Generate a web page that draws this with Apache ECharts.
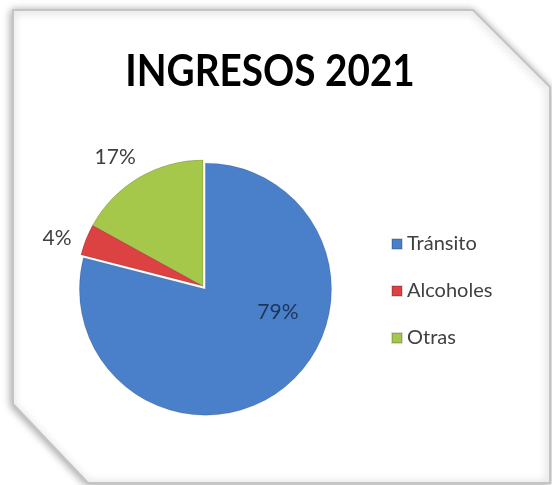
<!DOCTYPE html>
<html><head><meta charset="utf-8">
<script src="https://cdn.jsdelivr.net/npm/echarts@6/dist/echarts.min.js"></script>
<style>html,body{margin:0;padding:0;background:#fff}#c{width:552px;height:485px}</style>
</head><body><div id="c"></div>
<script>
const categories = ['Tránsito', 'Alcoholes', 'Otras'];
const values = [79, 4, 17];
const colors = ['#4a7fca', '#dc4242', '#a6c84a'];
const titleText = 'INGRESOS 2021';

const chart = echarts.init(document.getElementById('c'), null, {renderer: 'canvas'});
const labelCfg = [
  {position: 'inside', color: '#1d3557'},
  {position: 'outside', color: '#404040'},
  {position: 'outside', color: '#404040'}
];
const labelShift = [[32, -29], [0, 2], [7, -12]];
const data = categories.map((c, i) => ({
  name: c, value: values[i],
  selected: i === 0,
  itemStyle: {color: colors[i]},
  label: labelCfg[i]
}));
chart.setOption({
  animation: false,
  graphic: [{
    type: 'polygon', z: -10,
    shape: {points: [[13,10],[473,10],[550,87],[550,483],[88,483],[13,404]]},
    style: {fill: '#fff', stroke: '#c4c4c4', lineWidth: 2,
      shadowBlur: 8, shadowColor: 'rgba(0,0,0,0.35)', shadowOffsetX: -1, shadowOffsetY: 1}
  }, {
    type: 'text', x: 270, y: 72, scaleX: 0.88,
    style: {text: titleText, fontFamily: 'Lato', fontWeight: 'bold', fontSize: 44,
      fill: '#000', textAlign: 'center', textVerticalAlign: 'middle'}
  }],
  legend: {
    orient: 'vertical', left: 386, top: 229,
    itemWidth: 10, itemHeight: 10, itemGap: 27, icon: 'rect',
    textStyle: {fontFamily: 'Lato', fontSize: 20, color: '#404040'},
    data: categories
  },
  series: [{
    type: 'pie', center: [203, 286], radius: 126,
    startAngle: 90, clockwise: true,
    selectedMode: 'multiple', selectedOffset: 4,
    label: {formatter: '{d}%', fontFamily: 'Lato', fontSize: 21, color: '#404040'},
    labelLine: {show: false, length: 10, length2: 0},
    labelLayout: function (p) {
      const s = labelShift[p.dataIndex];
      return {dx: s[0], dy: s[1]};
    },
    itemStyle: {borderColor: 'rgba(0,0,0,0.15)', borderWidth: 1},
    emphasis: {disabled: true},
    data: data
  }]
});
</script></body></html>
